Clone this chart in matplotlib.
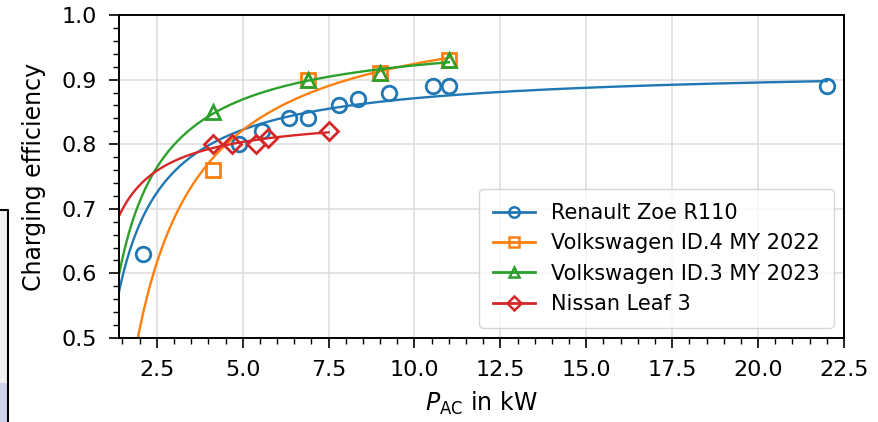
import numpy as np
import matplotlib
matplotlib.use("Agg")
import matplotlib.pyplot as plt
from matplotlib.patches import Rectangle
from matplotlib.lines import Line2D

# measured points (P_AC in kW, efficiency)
zoe_p = [2.1, 4.9, 5.55, 6.35, 6.9, 7.8, 8.35, 9.25, 10.55, 11.0, 22.0]
zoe_eta = [0.63, 0.80, 0.82, 0.84, 0.84, 0.86, 0.87, 0.88, 0.89, 0.89, 0.89]
id4_p = [4.15, 6.9, 9.0, 11.0]
id4_eta = [0.76, 0.90, 0.91, 0.93]
id3_p = [4.15, 6.9, 9.0, 11.0]
id3_eta = [0.85, 0.90, 0.91, 0.93]
leaf_p = [4.15, 4.7, 5.4, 5.75, 7.5]
leaf_eta = [0.80, 0.80, 0.80, 0.81, 0.82]

series = [
    ("Renault Zoe R110", zoe_p, zoe_eta, "#1f77b4", "o"),
    ("Volkswagen ID.4 MY 2022", id4_p, id4_eta, "#ff7f0e", "s"),
    ("Volkswagen ID.3 MY 2023", id3_p, id3_eta, "#2ca02c", "^"),
    ("Nissan Leaf 3", leaf_p, leaf_eta, "#d62728", "D"),
]

fig = plt.figure(figsize=(8.79, 4.22), dpi=100)
ax = fig.add_axes([119 / 879, 1 - 338 / 422, (844 - 119) / 879, (338 - 15) / 422])

handles = []
for name, p, eta, col, mk in series:
    p = np.array(p)
    eta = np.array(eta)
    # loss model: P_loss = c0 + c1 * P  ->  eta = 1 - c1 - c0 / P
    c1, c0 = np.polyfit(p, p * (1 - eta), 1)
    pp = np.linspace(1.0, p.max(), 300)
    ax.plot(pp, 1 - c1 - c0 / pp, color=col, lw=1.7)
    ms = 9 if mk == "D" else 10.5
    ax.plot(p, eta, ls="none", marker=mk, ms=ms, mfc="none", mec=col, mew=2.0)
    handles.append(Line2D([], [], color=col, lw=2.0, marker=mk, ms=7.5, mfc="none", mec=col, mew=1.8, label=name))

ax.set_xlim(1.4, 22.5)
ax.set_ylim(0.5, 1.0)
ax.set_xticks(np.arange(2.5, 22.6, 2.5))
ax.set_xticks(np.arange(1.5, 22.6, 0.5), minor=True)
ax.set_yticks(np.arange(0.5, 1.01, 0.1))
ax.set_yticks(np.arange(0.5, 1.001, 0.02), minor=True)
ax.tick_params(which="major", labelsize=16, length=7, width=1.2, pad=9)
ax.tick_params(which="minor", length=4, width=1.0)
ax.grid(True, which="major", color="#dddddd", lw=1.1)
for s in ax.spines.values():
    s.set_linewidth(1.4)

ax.set_xlabel(r"$P_\mathrm{AC}$ in kW", fontsize=17, labelpad=7)
ax.set_ylabel("Charging efficiency", fontsize=17, labelpad=11)

ax.legend(handles=handles, loc="lower right", fontsize=15, handlelength=2.0,
          borderaxespad=0.5, borderpad=0.65, labelspacing=0.5,
          framealpha=0.8, edgecolor="#cccccc")

# leftover bit of a neighbouring window at the left edge
fig.patches.append(Rectangle((0, 0), 8 / 879, (422 - 210) / 422, transform=fig.transFigure,
                             facecolor="#f1f1f1", edgecolor="none", zorder=0))
fig.patches.append(Rectangle((0, 0), 8 / 879, (422 - 383) / 422, transform=fig.transFigure,
                             facecolor="#cdd3ea", edgecolor="none", zorder=0))
fig.lines.append(Line2D([0, 8 / 879, 8 / 879], [1 - 210 / 422, 1 - 210 / 422, 0],
                        transform=fig.transFigure, color="black", lw=1.5))

fig.savefig("out.png", dpi=100)
